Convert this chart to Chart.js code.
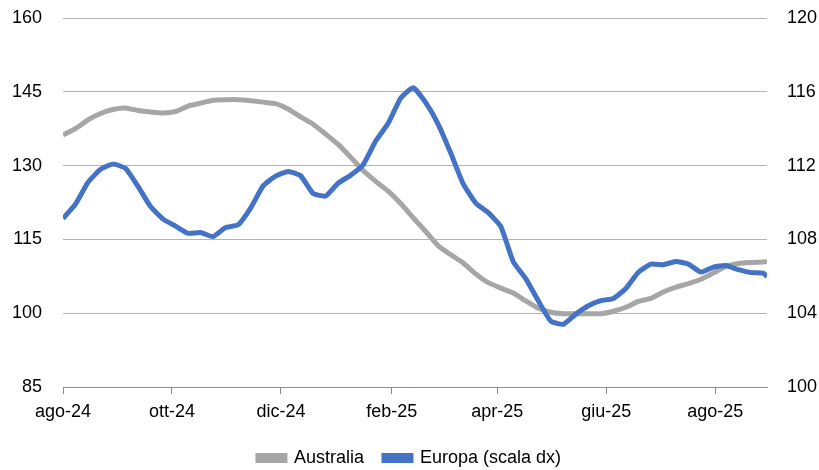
<!DOCTYPE html>
<html>
<head>
<meta charset="utf-8">
<script src="https://cdn.jsdelivr.net/npm/chart.js@4/dist/chart.umd.min.js"></script>
<style>
  html, body { margin: 0; padding: 0; background: #ffffff; }
  #wrap { width: 819px; height: 470px; }
</style>
</head>
<body>
<div id="wrap"><canvas id="c" width="819" height="470"></canvas></div>
<script>
// ---- data (weekly observations) ----
const dates = [
  '2024-08-01','2024-08-08','2024-08-15','2024-08-22','2024-08-29','2024-09-05','2024-09-12','2024-09-19','2024-09-26','2024-10-03',
  '2024-10-10','2024-10-17','2024-10-24','2024-10-31','2024-11-07','2024-11-14','2024-11-21','2024-11-28','2024-12-05','2024-12-12',
  '2024-12-19','2024-12-26','2025-01-02','2025-01-09','2025-01-16','2025-01-23','2025-01-30','2025-02-06','2025-02-13','2025-02-20',
  '2025-02-27','2025-03-06','2025-03-13','2025-03-20','2025-03-27','2025-04-03','2025-04-10','2025-04-17','2025-04-24','2025-05-01',
  '2025-05-08','2025-05-15','2025-05-22','2025-05-29','2025-06-05','2025-06-12','2025-06-19','2025-06-26','2025-07-03','2025-07-10',
  '2025-07-17','2025-07-24','2025-07-31','2025-08-07','2025-08-14','2025-08-21','2025-08-28','2025-08-30'
];
const australia = [
  136.2,137.5,139.3,140.6,141.4,141.7,141.2,140.9,140.7,141.0,
  142.1,142.7,143.3,143.4,143.4,143.2,142.9,142.6,141.5,139.9,
  138.4,136.4,134.3,131.7,129.0,126.8,124.8,122.3,119.4,116.6,
  113.7,111.9,110.2,108.0,106.2,105.1,104.1,102.5,101.0,100.2,
  99.9,99.9,99.9,99.9,100.4,101.2,102.4,103.0,104.3,105.3,
  106.0,106.9,108.2,109.5,110.1,110.3,110.4,110.5
];
const europa = [
  109.13,109.91,111.09,111.80,112.08,111.85,110.87,109.78,109.10,108.72,
  108.33,108.37,108.15,108.64,108.79,109.70,110.90,111.43,111.68,111.45,
  110.49,110.35,111.05,111.48,112.05,113.33,114.29,115.66,116.22,115.41,
  114.24,112.68,111.01,109.97,109.45,108.70,106.79,105.87,104.67,103.57,
  103.40,103.95,104.40,104.68,104.80,105.34,106.22,106.66,106.63,106.80,
  106.66,106.23,106.50,106.58,106.36,106.20,106.17,105.98
];
const seriesNames = ['Australia', 'Europa (scala dx)'];
const tickDates = ['2024-08-01','2024-10-01','2024-12-01','2025-02-01','2025-04-01','2025-06-01','2025-08-01'];
const tickLabels = ['ago-24','ott-24','dic-24','feb-25','apr-25','giu-25','ago-25'];
const leftTicks = [85, 100, 115, 130, 145, 160];
const rightTicks = [100, 104, 108, 112, 116, 120];

// ---- helpers ----
const origin = Date.UTC(2024, 7, 1);
function dayOf(s) {
  const p = s.split('-').map(Number);
  return Math.round((Date.UTC(p[0], p[1] - 1, p[2]) - origin) / 86400000);
}
const xs = dates.map(dayOf);
const tickDays = tickDates.map(dayOf);
const FONT = { family: "'Liberation Sans', Arial, sans-serif", size: 18 };

new Chart(document.getElementById('c'), {
  type: 'line',
  data: {
    datasets: [
      {
        label: seriesNames[0],
        data: xs.map((x, i) => ({ x: x, y: australia[i] })),
        yAxisID: 'y',
        borderColor: '#a6a6a6',
        backgroundColor: '#a6a6a6',
        borderWidth: 5,
        pointRadius: 0,
        tension: 0.15,
        order: 1
      },
      {
        label: seriesNames[1],
        data: xs.map((x, i) => ({ x: x, y: europa[i] })),
        yAxisID: 'y1',
        borderColor: '#4472c4',
        backgroundColor: '#4472c4',
        borderWidth: 5,
        pointRadius: 0,
        tension: 0.15,
        order: 0
      }
    ]
  },
  options: {
    responsive: false,
    animation: false,
    events: [],
    layout: { padding: { top: 18, bottom: -7, left: 0, right: 0 } },
    plugins: {
      tooltip: { enabled: false },
      legend: {
        position: 'bottom',
        labels: {
          boxWidth: 27,
          boxHeight: 5,
          padding: 20,
          color: '#000',
          font: FONT,
          sort: (a, b) => a.datasetIndex - b.datasetIndex
        }
      }
    },
    scales: {
      x: {
        type: 'linear',
        min: 0,
        max: 394,
        afterBuildTicks: (s) => { s.ticks = tickDays.map(v => ({ value: v })); },
        afterFit: (s) => { s.height = 42; },
        ticks: {
          autoSkip: false,
          maxRotation: 0,
          padding: 7,
          color: '#000',
          font: FONT,
          callback: (v) => { const i = tickDays.indexOf(v); return i >= 0 ? tickLabels[i] : ''; }
        },
        grid: { drawOnChartArea: false, drawTicks: true, tickLength: 7, color: '#8c8c8c', lineWidth: 1 },
        border: { display: true, color: '#8c8c8c', width: 1 }
      },
      y: {
        position: 'left',
        min: 85,
        max: 160,
        afterBuildTicks: (s) => { s.ticks = leftTicks.map(v => ({ value: v })); },
        afterFit: (s) => { s.width = 63; s.paddingTop = 0; s.paddingBottom = 0; },
        ticks: { padding: 21, color: '#000', font: FONT },
        grid: { drawTicks: false, color: '#b4b4b4', lineWidth: 1 },
        border: { display: false }
      },
      y1: {
        position: 'right',
        min: 100,
        max: 120,
        afterBuildTicks: (s) => { s.ticks = rightTicks.map(v => ({ value: v })); },
        afterFit: (s) => { s.width = 52; s.paddingTop = 0; s.paddingBottom = 0; },
        ticks: { padding: 20, color: '#000', font: FONT },
        grid: { drawOnChartArea: false, drawTicks: false },
        border: { display: false }
      }
    }
  }
});
</script>
</body>
</html>
